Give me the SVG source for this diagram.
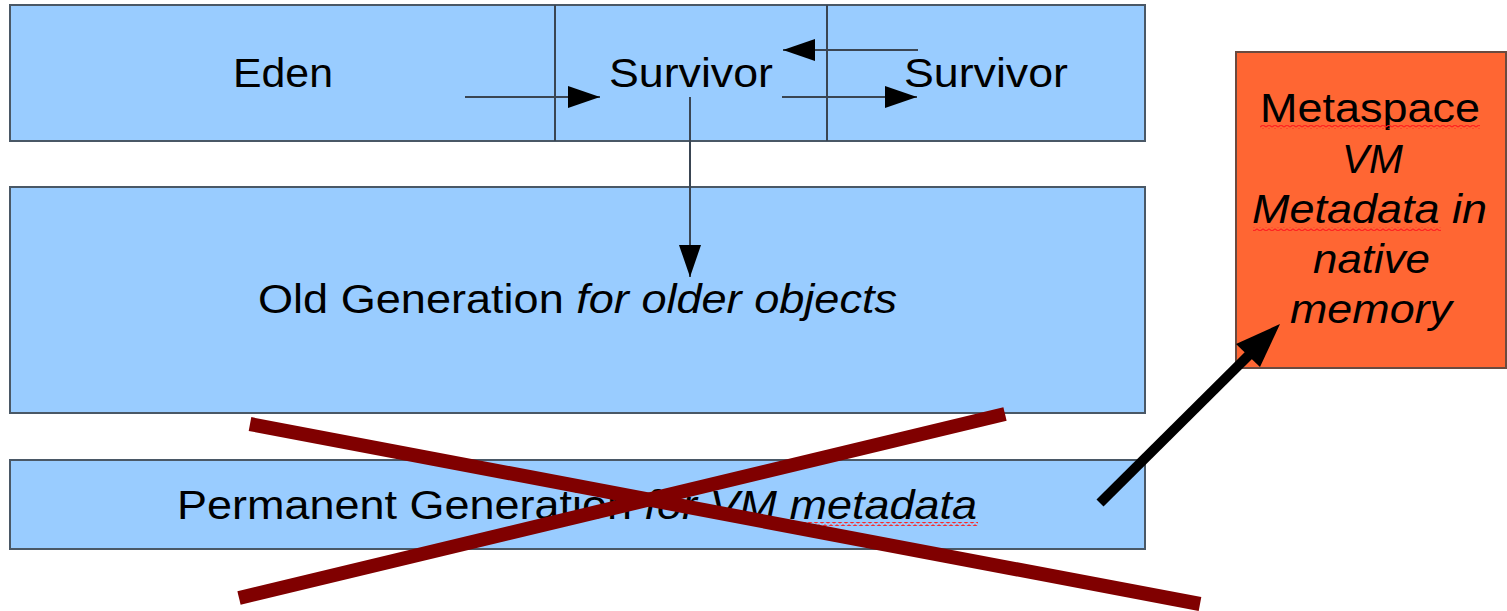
<svg xmlns="http://www.w3.org/2000/svg" width="1507" height="611" viewBox="0 0 1507 611">
  <style>
    .box { fill: #99ccff; stroke: #4a5866; stroke-width: 2; }
    .meta { fill: #ff6633; stroke: #6b4a3f; stroke-width: 2; }
    .lbl { font-family: "Liberation Sans", Arial, sans-serif; font-size: 41px; fill: #000; }
    .it { font-style: italic; }
    .conn { stroke: #3a4552; stroke-width: 2; fill: none; }
    .cross { stroke: #800000; stroke-width: 14; fill: none; }
  </style>
  <defs>
    <marker id="tri2" markerWidth="32" markerHeight="22" refX="32" refY="11" orient="auto" markerUnits="userSpaceOnUse">
      <path d="M0,0 L32,11 L0,22 Z" fill="#000"/>
    </marker>
    <pattern id="squig" width="6" height="4" patternUnits="userSpaceOnUse">
      <polyline points="0,3 3,1 6,3" fill="none" stroke="#ff2020" stroke-width="1.2"/>
    </pattern>
  </defs>

  <g id="young">
    <rect class="box" x="10" y="5" width="1135" height="136"/>
    <line x1="555" y1="5" x2="555" y2="141" stroke="#3a4552" stroke-width="2"/>
    <line x1="827" y1="5" x2="827" y2="141" stroke="#3a4552" stroke-width="2"/>
  </g>
  <g id="eden">
    <text class="lbl" x="233" y="87" textLength="100" lengthAdjust="spacingAndGlyphs">Eden</text>
  </g>
  <g id="survivor1">
    <text class="lbl" x="609" y="87" textLength="164" lengthAdjust="spacingAndGlyphs">Survivor</text>
  </g>
  <g id="survivor2">
    <text class="lbl" x="904" y="87" textLength="164" lengthAdjust="spacingAndGlyphs">Survivor</text>
  </g>

  <g id="old">
    <rect class="box" x="10" y="187" width="1135" height="226"/>
    <text class="lbl" x="258" y="313" textLength="639" lengthAdjust="spacingAndGlyphs">Old Generation <tspan class="it">for older objects</tspan></text>
  </g>

  <g id="perm">
    <rect class="box" x="10" y="460" width="1135" height="89"/>
    <text class="lbl" x="177" y="519" textLength="800" lengthAdjust="spacingAndGlyphs">Permanent Generation <tspan class="it">for VM metadata</tspan></text>
    <rect x="790" y="522" width="188" height="4" fill="url(#squig)"/>
  </g>

  <g id="metaspace">
    <rect class="meta" x="1236" y="52" width="270" height="316"/>
    <text class="lbl" x="1260" y="122" textLength="220" lengthAdjust="spacingAndGlyphs">Metaspace</text>
    <rect x="1260" y="125" width="220" height="4" fill="url(#squig)"/>
    <text class="lbl it" x="1342" y="173" textLength="61" lengthAdjust="spacingAndGlyphs">VM</text>
    <text class="lbl it" x="1252" y="223" textLength="235" lengthAdjust="spacingAndGlyphs">Metadata in</text>
    <rect x="1253" y="227" width="188" height="4" fill="url(#squig)"/>
    <text class="lbl it" x="1313" y="273" textLength="117" lengthAdjust="spacingAndGlyphs">native</text>
    <text class="lbl it" x="1290" y="323" textLength="162" lengthAdjust="spacingAndGlyphs">memory</text>
  </g>

  <g id="connectors">
    <line class="conn" x1="465" y1="97" x2="600" y2="97" marker-end="url(#tri2)"/>
    <line class="conn" x1="782" y1="97" x2="917" y2="97" marker-end="url(#tri2)"/>
    <line class="conn" x1="918" y1="50" x2="783" y2="50" marker-end="url(#tri2)"/>
    <line class="conn" x1="690" y1="97" x2="690" y2="277" marker-end="url(#tri2)"/>
    <line x1="1100" y1="503" x2="1250" y2="354" stroke="#000" stroke-width="10"/>
    <polygon points="1280,324 1260,367 1236,344" fill="#000"/>
  </g>

  <g id="cross">
    <line class="cross" x1="250" y1="424" x2="1200" y2="604"/>
    <line class="cross" x1="239" y1="598" x2="1005" y2="414"/>
  </g>
</svg>
